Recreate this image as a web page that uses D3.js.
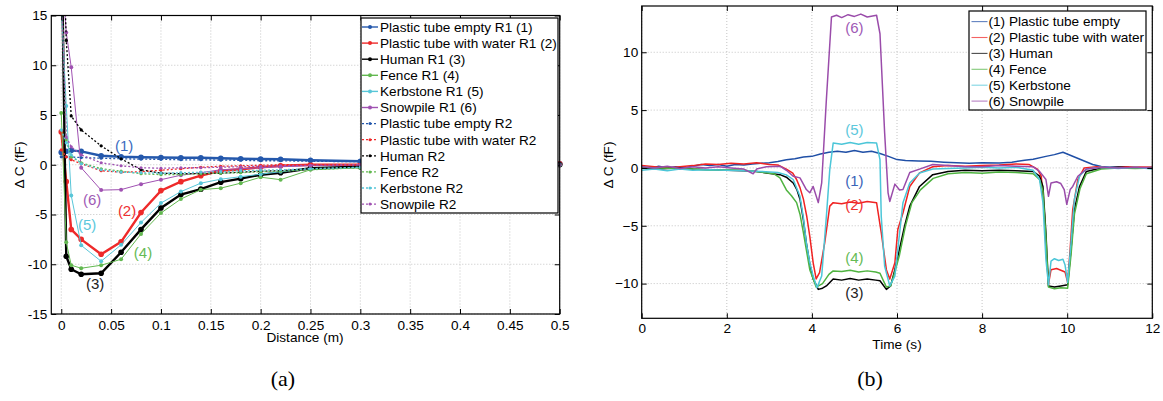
<!DOCTYPE html>
<html lang="en">

<head>
    <meta charset="UTF-8">
    <title>Capacitance change</title>
    <script src="https://d3js.org/d3.v7.min.js"></script>
</head>
<style>
    body {
        margin: 0;
        background: #fff;
    }

    text {
        font-family: "Liberation Sans", Arial, sans-serif;
    }
</style>

<body>
    <script>
        /* ---------------- data of panel (a) : Delta C against distance ---------------- */
        const distance = [0, 0.005, 0.01, 0.02, 0.04, 0.06, 0.08, 0.1, 0.12, 0.14, 0.16, 0.18, 0.2, 0.22, 0.25, 0.3, 0.35, 0.4, 0.45, 0.5];

        const emptyR1 = [1.24, 1.35, 1.44, 1.34, 0.9, 0.8, 0.75, 0.73, 0.7, 0.7, 0.65, 0.6, 0.58, 0.55, 0.45, 0.35, 0.3, 0.2, 0.15, 0.1];
        const waterR1 = [3.3, -1.7, -6.5, -7.5, -9.0, -7.75, -4.8, -2.6, -1.7, -1.1, -0.6, -0.45, -0.25, -0.1, 0, 0, 0.05, 0.05, 0.1, 0.1];
        const humanR1 = [25, -9.2, -10.5, -11.0, -10.9, -8.8, -6.5, -4.35, -3.0, -2.45, -1.75, -1.4, -1.0, -0.8, -0.35, -0.2, -0.1, -0.05, 0, 0];
        const fenceR1 = [5.2, -7.8, -10.1, -10.4, -10.1, -9.5, -6.95, -4.85, -3.45, -2.5, -2.35, -1.85, -1.25, -1.5, -0.5, -0.3, -0.2, -0.1, -0.05, 0];
        const kerbR1 = [16, 5.9, -3.1, -8.1, -9.7, -8.05, -5.8, -3.85, -2.7, -1.85, -1.45, -1.2, -0.95, -0.7, -0.4, -0.25, -0.15, -0.1, 0, 0];
        const snowR1 = [20, 13.3, 9.8, -0.3, -2.55, -2.5, -1.95, -1.5, -1.05, -0.8, -0.5, -0.4, -0.3, -0.2, -0.1, 0, 0, 0, 0, 0];

        const emptyR2 = [0.8, 0.8, 0.78, 0.72, 0.66, 0.6, 0.56, 0.55, 0.5, 0.5, 0.46, 0.45, 0.4, 0.4, 0.35, 0.3, 0.2, 0.15, 0.1, 0.1];
        const waterR2 = [1.5, 0.8, 0.5, 0.1, -0.6, -0.75, -0.7, -0.55, -0.4, -0.25, -0.15, -0.1, -0.05, 0, 0, 0, 0, 0, 0, 0];
        const humanR2 = [30, 12.5, 4.9, 3.5, 1.9, 0.6, -0.5, -0.85, -0.9, -0.9, -0.85, -0.75, -0.65, -0.6, -0.4, -0.2, -0.1, 0, 0, 0.05];
        const fenceR2 = [18, 2.5, 0.8, 0.2, -0.4, -0.65, -0.9, -1.0, -1.0, -0.9, -0.85, -0.8, -0.7, -0.65, -0.5, -0.3, -0.2, -0.1, -0.05, 0];
        const kerbR2 = [3.5, 2.2, 1.0, 0.1, -0.5, -0.75, -0.8, -0.85, -0.8, -0.75, -0.7, -0.6, -0.55, -0.5, -0.4, -0.25, -0.15, -0.1, -0.05, 0];
        const snowR2 = [18, 2.8, 1.8, 1.0, 0.2, -0.1, -0.3, -0.35, -0.3, -0.3, -0.25, -0.2, -0.15, -0.1, -0.05, 0, 0, 0, 0, 0];

        const legendA = ["Plastic tube empty R1 (1)", "Plastic tube with water R1 (2)", "Human R1 (3)", "Fence R1 (4)", "Kerbstone R1 (5)", "Snowpile R1 (6)",
            "Plastic tube empty R2", "Plastic tube with water R2", "Human R2", "Fence R2", "Kerbstone R2", "Snowpile R2"];
        const xTicksA = [0, 0.05, 0.1, 0.15, 0.2, 0.25, 0.3, 0.35, 0.4, 0.45, 0.5];
        const xTickLabelsA = ["0", "0.05", "0.1", "0.15", "0.2", "0.25", "0.3", "0.35", "0.4", "0.45", "0.5"];
        const yTicksA = [-15, -10, -5, 0, 5, 10, 15];
        const yTickLabelsA = ["-15", "-10", "-5", "0", "5", "10", "15"];

        /* ---------------- data of panel (b) : Delta C against time, [t, value] ---------------- */
        const emptyTime = [[0, 0.1], [0.2, -0.05], [0.4, 0.15], [0.6, 0.0], [0.8, 0.1], [1.0, 0.0], [1.2, 0.15], [1.4, 0.3], [1.6, 0.2], [1.8, 0.3], [2.0, 0.15], [2.2, 0.3], [2.4, 0.25], [2.6, 0.35], [2.8, 0.4], [3.0, 0.45], [3.2, 0.55], [3.4, 0.7], [3.6, 0.8], [3.8, 0.95], [4.0, 1.0], [4.2, 1.2], [4.4, 1.35], [4.6, 1.45], [4.8, 1.35], [5.0, 1.5], [5.2, 1.35], [5.4, 1.45], [5.6, 1.25], [5.8, 1.0], [6.0, 0.72], [6.2, 0.65], [6.5, 0.6], [6.8, 0.57], [7.1, 0.5], [7.4, 0.45], [7.7, 0.4], [8.0, 0.45], [8.4, 0.43], [8.7, 0.5], [9.0, 0.66], [9.2, 0.75], [9.5, 1.0], [9.7, 1.15], [9.9, 1.35], [10.0, 1.2], [10.2, 0.9], [10.4, 0.6], [10.6, 0.3], [10.8, 0.12], [11.0, 0.05], [11.3, 0.1], [11.6, 0.0], [12, 0.05]];
        const waterTime = [[0, 0.2], [0.3, 0.1], [0.6, 0.0], [0.9, 0.1], [1.2, 0.2], [1.5, 0.35], [1.8, 0.3], [2.1, 0.4], [2.4, 0.35], [2.7, 0.45], [3.0, 0.3], [3.2, 0.25], [3.4, -0.1], [3.55, -0.45], [3.64, -1.0], [3.72, -1.7], [3.8, -2.7], [3.88, -4.2], [3.95, -5.9], [4.03, -8.2], [4.1, -9.6], [4.18, -9.05], [4.3, -6.5], [4.42, -3.3], [4.5, -3.0], [4.7, -3.1], [4.9, -2.95], [5.1, -3.05], [5.3, -2.9], [5.52, -3.0], [5.63, -5.6], [5.75, -8.8], [5.83, -9.6], [5.95, -8.2], [6.02, -5.3], [6.14, -3.9], [6.3, -1.6], [6.53, -0.43], [6.84, 0.1], [7.2, 0.2], [7.6, 0.15], [8.0, 0.2], [8.4, 0.25], [8.8, 0.35], [9.1, 0.3], [9.3, -0.1], [9.39, -0.7], [9.47, -4.2], [9.5, -7.0], [9.56, -10.05], [9.62, -8.8], [9.75, -8.7], [9.85, -8.85], [9.95, -9.0], [10.01, -9.9], [10.07, -7.0], [10.13, -3.6], [10.25, -1.0], [10.4, 0], [10.7, 0.1], [11.0, 0.0], [11.4, 0.1], [12, 0.05]];
        const humanTime = [[0, 0.0], [0.4, -0.1], [0.8, 0.0], [1.2, -0.1], [1.6, -0.15], [2.0, -0.2], [2.4, -0.25], [2.7, -0.3], [2.93, -0.43], [3.25, -0.58], [3.4, -0.8], [3.56, -1.3], [3.65, -1.9], [3.72, -2.7], [3.8, -4.5], [3.87, -6.5], [3.95, -8.3], [4.03, -9.6], [4.15, -10.5], [4.25, -10.4], [4.34, -10.2], [4.5, -9.6], [4.7, -9.7], [4.9, -9.55], [5.1, -9.7], [5.3, -9.6], [5.5, -9.7], [5.6, -9.75], [5.75, -10.5], [5.85, -10.2], [5.95, -8.8], [6.06, -7.0], [6.18, -5.0], [6.3, -3.3], [6.53, -1.6], [6.84, -0.58], [7.2, -0.3], [7.6, -0.2], [8.0, -0.25], [8.4, -0.2], [8.8, -0.25], [9.2, -0.3], [9.35, -0.7], [9.43, -1.6], [9.5, -5.6], [9.56, -10.2], [9.7, -10.3], [9.85, -10.2], [10.01, -10.1], [10.09, -7.0], [10.17, -3.6], [10.29, -1.6], [10.45, -0.3], [10.8, 0], [11.2, 0.05], [11.6, 0], [12, 0.0]];
        const fenceTime = [[0, 0.05], [0.4, 0.0], [0.8, -0.05], [1.2, -0.1], [1.6, -0.2], [2.0, -0.15], [2.4, -0.2], [2.8, -0.35], [3.1, -0.5], [3.25, -0.86], [3.4, -1.9], [3.52, -2.4], [3.64, -3.0], [3.72, -4.0], [3.8, -5.6], [3.88, -7.3], [3.95, -8.8], [4.1, -10.3], [4.25, -10.0], [4.4, -9.2], [4.5, -8.9], [4.7, -8.95], [4.9, -8.85], [5.1, -9.0], [5.3, -8.9], [5.5, -9.0], [5.6, -9.1], [5.75, -10.3], [5.85, -10.2], [5.95, -9.0], [6.06, -7.5], [6.2, -5.0], [6.35, -3.0], [6.55, -1.9], [6.85, -0.9], [7.2, -0.5], [7.6, -0.4], [8.0, -0.45], [8.4, -0.35], [8.8, -0.4], [9.2, -0.5], [9.35, -1.0], [9.43, -2.0], [9.5, -6.0], [9.56, -10.3], [9.7, -10.45], [9.85, -10.35], [10.01, -10.4], [10.09, -7.5], [10.17, -4.0], [10.3, -1.8], [10.45, -0.5], [10.8, -0.1], [11.2, 0], [11.6, -0.05], [12, 0.0]];
        const kerbTime = [[0, -0.2], [0.3, -0.1], [0.6, -0.25], [0.9, -0.1], [1.2, -0.2], [1.6, -0.15], [2.0, -0.2], [2.4, -0.25], [2.8, -0.3], [3.2, -0.4], [3.4, -0.6], [3.56, -1.0], [3.72, -2.45], [3.8, -4.3], [3.87, -6.5], [3.95, -8.2], [4.03, -9.35], [4.12, -10.35], [4.23, -9.35], [4.34, -4.2], [4.42, -0.15], [4.5, 2.15], [4.7, 2.05], [4.9, 2.2], [5.1, 2.05], [5.3, 2.2], [5.52, 2.15], [5.6, 0.72], [5.63, -4.2], [5.71, -8.5], [5.83, -10.2], [5.95, -9.35], [6.02, -7.0], [6.14, -3.0], [6.3, -1.3], [6.53, -0.43], [6.84, -0.1], [7.2, -0.05], [7.6, 0.0], [8.0, 0.05], [8.4, 0.0], [8.8, 0.05], [9.2, -0.2], [9.35, -1.0], [9.43, -3.0], [9.5, -7.9], [9.56, -10.1], [9.62, -8.05], [9.7, -7.85], [9.8, -8.0], [9.9, -7.9], [9.95, -8.4], [10.01, -9.9], [10.09, -6.5], [10.17, -2.7], [10.29, -0.7], [10.45, -0.1], [10.8, 0.05], [11.2, -0.05], [11.6, 0.05], [12, -0.1]];
        const snowTime = [[0, 0.1], [0.3, 0.0], [0.6, 0.15], [0.9, -0.05], [1.2, 0.1], [1.5, 0.0], [1.8, 0.1], [2.1, 0.0], [2.4, -0.1], [2.62, -0.5], [2.7, -0.1], [2.93, 0.1], [3.25, 0.15], [3.4, -0.2], [3.56, -0.72], [3.72, -0.86], [3.87, -1.87], [3.95, -2.15], [4.03, -1.6], [4.15, -3.0], [4.23, -1.3], [4.34, 5.9], [4.46, 13.05], [4.58, 13.2], [4.7, 13.0], [4.85, 13.25], [5.0, 13.1], [5.15, 13.3], [5.3, 13.05], [5.52, 13.2], [5.6, 11.6], [5.71, 3.0], [5.79, -2.15], [5.83, -2.9], [5.95, -1.4], [6.06, -1.9], [6.14, -1.87], [6.3, -0.4], [6.53, -0.1], [6.84, 0.3], [7.2, 0.2], [7.6, 0.1], [8.0, 0.1], [8.4, 0.2], [8.8, 0.15], [9.2, 0.1], [9.35, -0.3], [9.5, -1.0], [9.56, -2.45], [9.62, -1.3], [9.75, -1.2], [9.85, -1.35], [9.93, -1.87], [9.99, -3.15], [10.07, -1.87], [10.13, -1.6], [10.25, -0.72], [10.45, -0.1], [10.8, 0.05], [11.2, 0], [11.6, 0.05], [12, 0.0]];

        const legendB = ["(1) Plastic tube empty", "(2) Plastic tube with water", "(3) Human", "(4) Fence", "(5) Kerbstone", "(6) Snowpile"];
        const xTicksB = [0, 2, 4, 6, 8, 10, 12];
        const yTicksB = [-10, -5, 0, 5, 10];
        const yTickLabelsB = ["\u221210", "\u22125", "0", "5", "10"];

        /* ---------------- colours ---------------- */
        const blue = "#2458ac", red = "#ee2a2a", black = "#000000", green = "#62b850", cyan = "#58c6d8", purple = "#a052b2";
        const FONT = "13.6px";

        var svg = d3.select("body").append("svg")
            .attr("width", 1163)
            .attr("height", 401);

        svg.append("rect").attr("width", 1163).attr("height", 401).style("fill", "#fff");

        // dotted grid of one panel
        function drawFrame(g, x, y, box, xt, yt) {
            xt.forEach(v => {
                g.append("line")
                    .attr("x1", x(v)).attr("x2", x(v))
                    .attr("y1", box.top).attr("y2", box.bottom)
                    .style("stroke", "#c4c4c4")
                    .style("stroke-dasharray", "1,2");
            });
            yt.forEach(v => {
                g.append("line")
                    .attr("x1", box.left).attr("x2", box.right)
                    .attr("y1", y(v)).attr("y2", y(v))
                    .style("stroke", "#c4c4c4")
                    .style("stroke-dasharray", "1,2");
            });
        }

        // box with inward ticks on all four sides
        function drawAxes(g, x, y, box, xt, xl, yt, yl, xPad, yPad) {
            const bottom = g.append("g").attr("transform", `translate(0,${box.bottom})`)
                .call(d3.axisBottom(x).tickValues(xt).tickSize(-5).tickPadding(xPad).tickFormat((d, i) => xl[i]));
            const top = g.append("g").attr("transform", `translate(0,${box.top})`)
                .call(d3.axisTop(x).tickValues(xt).tickSize(-5).tickFormat(""));
            const left = g.append("g").attr("transform", `translate(${box.left},0)`)
                .call(d3.axisLeft(y).tickValues(yt).tickSize(-5).tickPadding(yPad).tickFormat((d, i) => yl[i]));
            const right = g.append("g").attr("transform", `translate(${box.right},0)`)
                .call(d3.axisRight(y).tickValues(yt).tickSize(-5).tickFormat(""));
            [bottom, top, left, right].forEach(a => {
                a.select(".domain").remove();
                a.selectAll("line").style("stroke", "#000");
                a.selectAll("text").style("font-size", FONT).style("fill", "#000")
                    .style("font-family", '"Liberation Sans", Arial, sans-serif');
            });
            g.append("rect")
                .attr("x", box.left).attr("y", box.top)
                .attr("width", box.right - box.left).attr("height", box.bottom - box.top)
                .style("fill", "none").style("stroke", "#000").style("stroke-width", 1.2);
        }

        /* ======================= panel (a) ======================= */
        const boxA = { left: 51.3, right: 559.7, top: 15.5, bottom: 314 };
        const xA = d3.scaleLinear().domain([-0.01, 0.5]).range([boxA.left, boxA.right]);
        const yA = d3.scaleLinear().domain([-15, 15]).range([boxA.bottom, boxA.top]);
        const gA = svg.append("g");

        drawFrame(gA, xA, yA, boxA, xTicksA, yTicksA);

        gA.append("clipPath").attr("id", "clipA").append("rect")
            .attr("x", boxA.left - 6).attr("y", boxA.top)
            .attr("width", boxA.right - boxA.left + 12).attr("height", boxA.bottom - boxA.top);

        const seriesA = [
            { values: emptyR1, color: blue, w: 2.4, r: 2.8, dash: null },
            { values: waterR1, color: red, w: 2.4, r: 2.8, dash: null },
            { values: humanR1, color: black, w: 2.4, r: 2.8, dash: null },
            { values: fenceR1, color: green, w: 1, r: 2, dash: null },
            { values: kerbR1, color: cyan, w: 1, r: 2, dash: null },
            { values: snowR1, color: purple, w: 1, r: 2, dash: null },
            { values: emptyR2, color: blue, w: 1.3, r: 1.6, dash: "2,2" },
            { values: waterR2, color: red, w: 1.3, r: 1.6, dash: "2,2" },
            { values: humanR2, color: black, w: 1.3, r: 1.6, dash: "2,2" },
            { values: fenceR2, color: green, w: 1.3, r: 1.6, dash: "2,2" },
            { values: kerbR2, color: cyan, w: 1.3, r: 1.6, dash: "2,2" },
            { values: snowR2, color: purple, w: 1.3, r: 1.6, dash: "2,2" }
        ];

        const lineA = d3.line().x((d, i) => xA(distance[i])).y(d => yA(d));
        const plotA = gA.append("g").attr("clip-path", "url(#clipA)");

        seriesA.forEach(s => {
            plotA.append("path")
                .datum(s.values)
                .attr("d", lineA)
                .style("fill", "none")
                .style("stroke", s.color)
                .style("stroke-width", s.w)
                .style("stroke-dasharray", s.dash);
            plotA.selectAll(null)
                .data(s.values)
                .enter().append("circle")
                .attr("cx", (d, i) => xA(distance[i]))
                .attr("cy", d => yA(d))
                .attr("r", s.r)
                .style("fill", s.color);
        });

        drawAxes(gA, xA, yA, boxA, xTicksA, xTickLabelsA, yTicksA, yTickLabelsA, 6, 4);

        // labels on curves
        const labelsA = [["(1)", 0.063, 1.9, "#3a6bc0"], ["(2)", 0.066, -4.6, "#ee3030"], ["(3)", 0.034, -12.0, "#222"],
        ["(4)", 0.082, -8.8, "#66bb55"], ["(5)", 0.026, -6.0, "#5cc8dc"], ["(6)", 0.031, -3.5, "#a05ab5"]];
        labelsA.forEach(l => {
            gA.append("text")
                .attr("x", xA(l[1])).attr("y", yA(l[2]))
                .attr("dy", "0.35em")
                .attr("text-anchor", "middle")
                .text(l[0])
                .style("font-size", "15px")
                .style("fill", l[3]);
        });

        gA.append("text")
            .attr("x", 305).attr("y", 342)
            .attr("text-anchor", "middle")
            .text("Distance (m)")
            .style("font-size", FONT);
        gA.append("text")
            .attr("transform", "translate(19,165) rotate(-90)")
            .attr("dy", "0.35em")
            .attr("text-anchor", "middle")
            .text("\u0394 C (fF)")
            .style("font-size", FONT);

        // legend (a)
        const legA = gA.append("g");
        legA.append("rect")
            .attr("x", 361).attr("y", 18).attr("width", 197).attr("height", 195)
            .style("fill", "#fff").style("stroke", "#000").style("stroke-width", 1.2);
        legendA.forEach((name, i) => {
            const yy = 27 + i * 16.1;
            const s = seriesA[i];
            legA.append("line")
                .attr("x1", 362).attr("x2", 378).attr("y1", yy).attr("y2", yy)
                .style("stroke", s.color)
                .style("stroke-width", i < 6 ? 1.4 : 1.3)
                .style("stroke-dasharray", s.dash);
            legA.append("circle")
                .attr("cx", 370).attr("cy", yy).attr("r", i < 6 ? 2 : 1.5)
                .style("fill", s.color);
            legA.append("text")
                .attr("x", 380).attr("y", yy)
                .attr("dy", "0.36em")
                .text(name)
                .style("font-size", FONT);
        });

        /* ======================= panel (b) ======================= */
        const boxB = { left: 641.7, right: 1152.3, top: 6, bottom: 318.3 };
        const xB = d3.scaleLinear().domain([0, 12]).range([boxB.left, boxB.right]);
        const yB = d3.scaleLinear().domain([-13, 14]).range([boxB.bottom, boxB.top]);
        const gB = svg.append("g");

        drawFrame(gB, xB, yB, boxB, xTicksB, yTicksB);

        gB.append("clipPath").attr("id", "clipB").append("rect")
            .attr("x", boxB.left).attr("y", boxB.top)
            .attr("width", boxB.right - boxB.left).attr("height", boxB.bottom - boxB.top);

        const seriesB = [
            { values: emptyTime, color: "#1f4fa6" },
            { values: waterTime, color: "#f02222" },
            { values: humanTime, color: black },
            { values: fenceTime, color: "#4fb340" },
            { values: kerbTime, color: "#4cc6d8" },
            { values: snowTime, color: "#9a4caa" }
        ];
        const lineB = d3.line().x(d => xB(d[0])).y(d => yB(d[1]));
        const plotB = gB.append("g").attr("clip-path", "url(#clipB)");
        seriesB.forEach(s => {
            plotB.append("path")
                .datum(s.values)
                .attr("d", lineB)
                .style("fill", "none")
                .style("stroke", s.color)
                .style("stroke-width", 1.5)
                .style("stroke-linejoin", "round");
        });

        drawAxes(gB, xB, yB, boxB, xTicksB, xTicksB.map(String), yTicksB, yTickLabelsB, 5.5, 3.5);

        const labelsB = [["(1)", 5.0, -1.1, "#3a64b8"], ["(2)", 5.0, -3.2, "#ee3030"], ["(3)", 5.0, -10.8, "#222"],
        ["(4)", 5.0, -7.8, "#66bb55"], ["(5)", 5.0, 3.3, "#5cc8dc"], ["(6)", 5.0, 12.1, "#a05ab5"]];
        labelsB.forEach(l => {
            gB.append("text")
                .attr("x", xB(l[1])).attr("y", yB(l[2]))
                .attr("dy", "0.35em")
                .attr("text-anchor", "middle")
                .text(l[0])
                .style("font-size", "15px")
                .style("fill", l[3]);
        });

        gB.append("text")
            .attr("x", 897).attr("y", 349)
            .attr("text-anchor", "middle")
            .text("Time (s)")
            .style("font-size", FONT);
        gB.append("text")
            .attr("transform", "translate(608,165) rotate(-90)")
            .attr("dy", "0.35em")
            .attr("text-anchor", "middle")
            .text("\u0394 C (fF)")
            .style("font-size", FONT);

        // legend (b), text cut at the box edge as in the figure
        gB.append("clipPath").attr("id", "clipLegB").append("rect")
            .attr("x", 969).attr("y", 11).attr("width", 177).attr("height", 99);
        const legB = gB.append("g");
        legB.append("rect")
            .attr("x", 969).attr("y", 11).attr("width", 177).attr("height", 99)
            .style("fill", "#fff");
        const legBInner = legB.append("g").attr("clip-path", "url(#clipLegB)");
        legendB.forEach((name, i) => {
            const yy = 21.6 + i * 15.9;
            legBInner.append("line")
                .attr("x1", 971.5).attr("x2", 987.5).attr("y1", yy).attr("y2", yy)
                .style("stroke", seriesB[i].color)
                .style("stroke-width", 1.1)
                .style("opacity", 0.7);
            legBInner.append("text")
                .attr("x", 988.5).attr("y", yy)
                .attr("dy", "0.36em")
                .text(name)
                .style("font-size", FONT);
        });
        legB.append("rect")
            .attr("x", 969).attr("y", 11).attr("width", 177).attr("height", 99)
            .style("fill", "none").style("stroke", "#000").style("stroke-width", 1.2);

        /* ======================= captions ======================= */
        const captions = [["(a)", 283], ["(b)", 870]];
        captions.forEach(c => {
            svg.append("text")
                .attr("x", c[1]).attr("y", 386)
                .attr("text-anchor", "middle")
                .text(c[0])
                .style("font-size", "22px")
                .style("font-family", '"Liberation Serif", "DejaVu Serif", serif');
        });
    </script>
</body>

</html>
